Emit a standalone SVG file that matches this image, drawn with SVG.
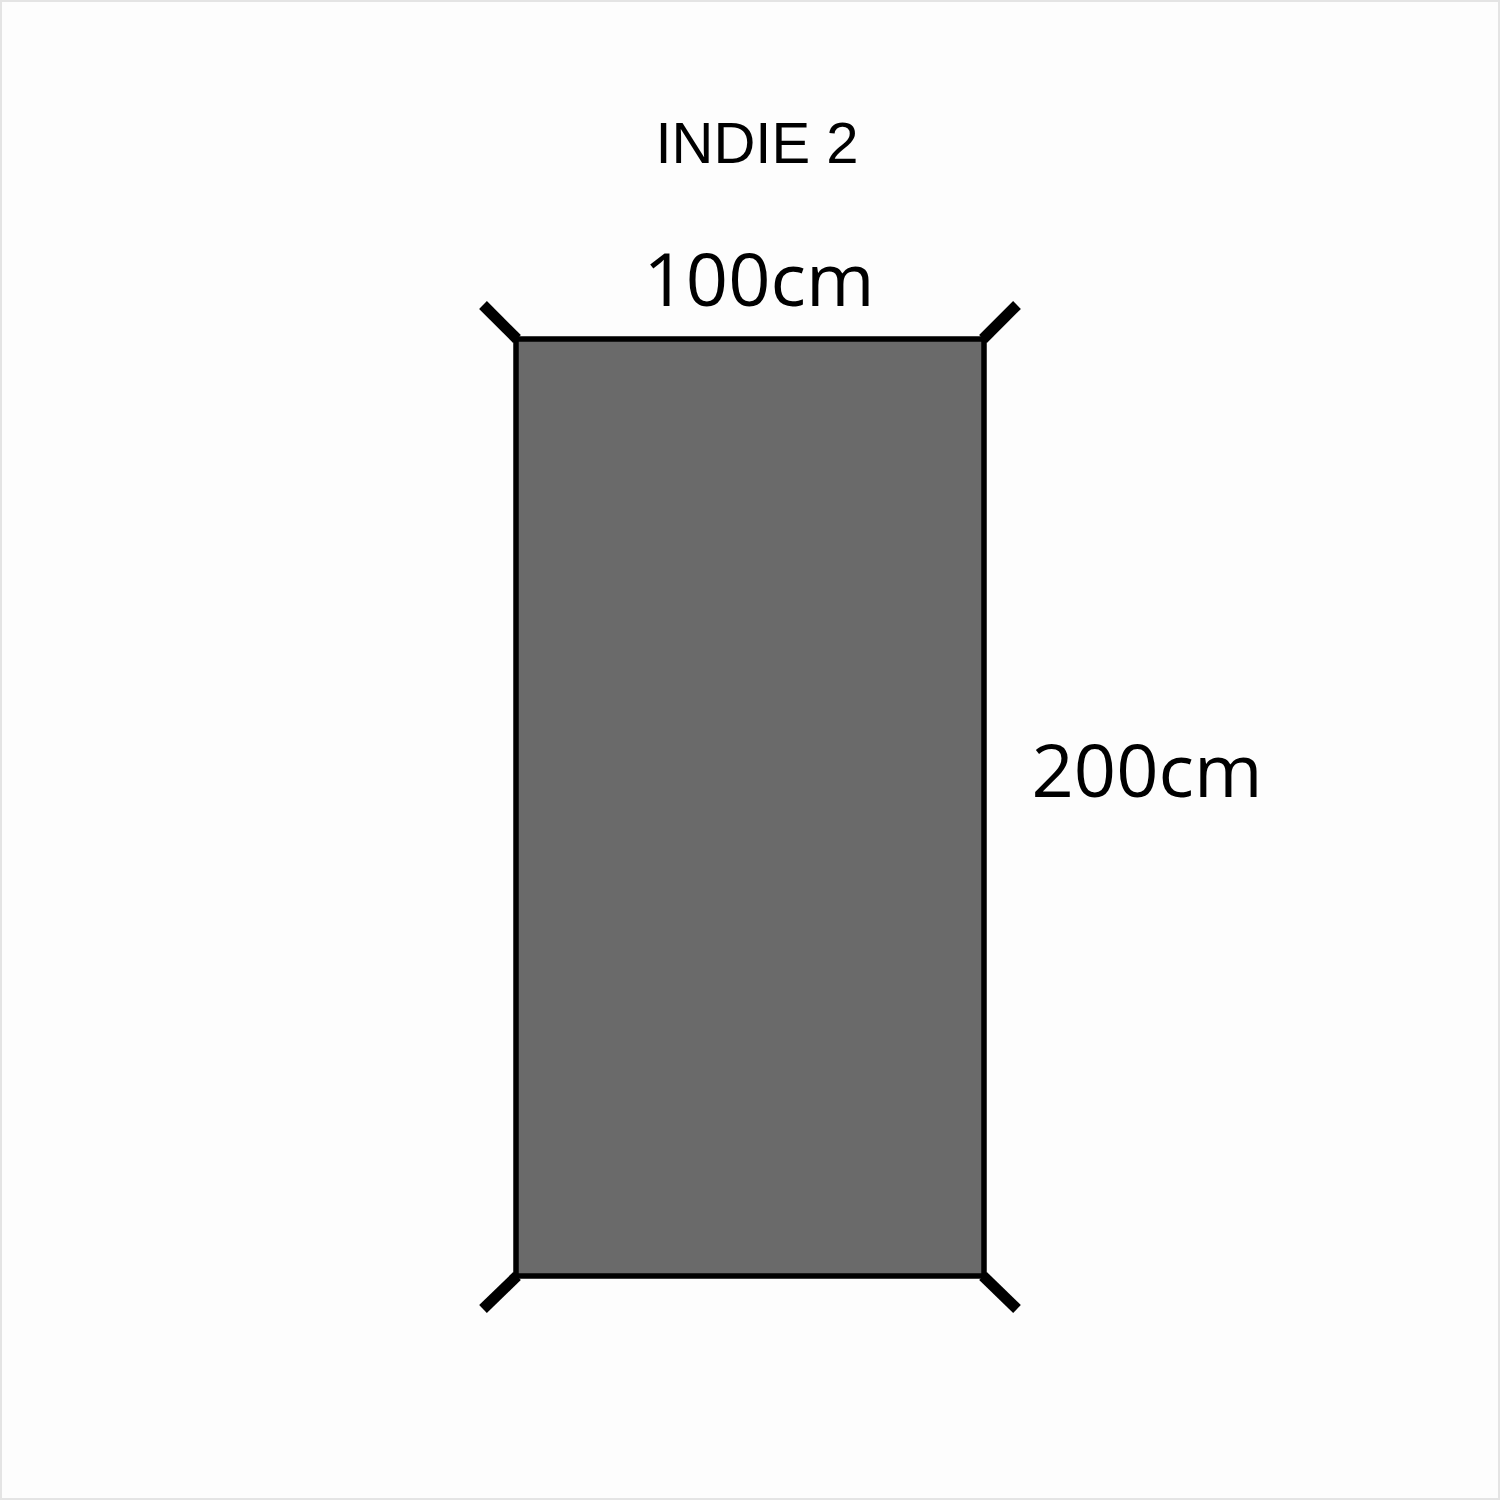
<svg xmlns="http://www.w3.org/2000/svg" width="1500" height="1500" viewBox="0 0 1500 1500">
<style>
.bg{fill:#fdfdfd;stroke:#e4e4e4;stroke-width:2}
.mat{fill:#6a6a6a;stroke:#000;stroke-width:5.5}
.peg{stroke:#000;stroke-width:11;stroke-linecap:butt}
.title{font-family:"Liberation Sans",Arial,sans-serif;font-size:58px;fill:#000;text-anchor:middle}
.dim{font-family:"Open Sans","Noto Sans",sans-serif;font-size:74px;fill:#000;text-anchor:middle}
</style>
<rect class="bg" x="1" y="1" width="1498" height="1498"/>
<text class="title" x="757" y="163">INDIE 2</text>
<g id="footprint">
<rect class="mat" x="516" y="339" width="468" height="937"/>
</g>
<g id="corners">
<line class="peg" x1="483" y1="305" x2="517" y2="339"/>
<line class="peg" x1="983" y1="339" x2="1017" y2="305"/>
<line class="peg" x1="517" y1="1276" x2="483" y2="1309"/>
<line class="peg" x1="983" y1="1276" x2="1017" y2="1309"/>
</g>
<text class="dim" x="759" y="306">100cm</text>
<text class="dim" x="1147" y="797">200cm</text>
</svg>
